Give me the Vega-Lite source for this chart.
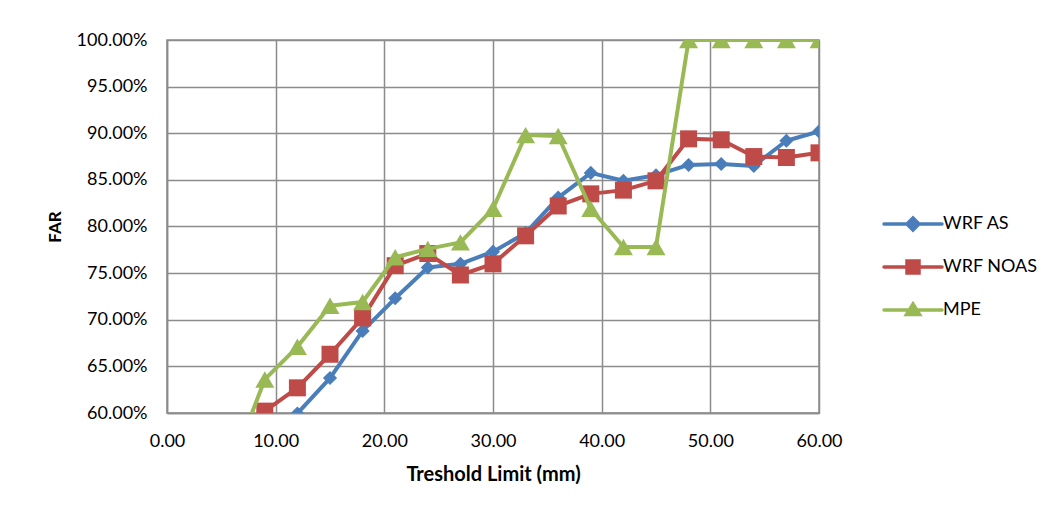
{
  "$schema": "https://vega.github.io/schema/vega-lite/v6.json",
  "autosize": "none",
  "width": 652,
  "height": 373,
  "padding": {"left": 167, "top": 40, "right": 236, "bottom": 102},
  "background": "#ffffff",
  "config": {
    "font": "Lato",
    "view": {"stroke": "#8c8c8c", "strokeWidth": 1.5},
    "axis": {
      "labelFont": "Lato",
      "labelFontSize": 18,
      "labelColor": "#000000",
      "labelOverlap": false,
      "labelFlush": false,
      "titleFont": "Lato",
      "titleFontWeight": "bold",
      "titleColor": "#000000",
      "gridColor": "#8c8c8c",
      "gridWidth": 1.5,
      "gridOpacity": 1,
      "domainColor": "#8c8c8c",
      "domainWidth": 1.5,
      "ticks": false
    }
  },
  "data": {
    "values": [
      {"series": "WRF AS", "x": 9, "y": 0.590},
      {"series": "WRF AS", "x": 12, "y": 0.5995},
      {"series": "WRF AS", "x": 15, "y": 0.6375},
      {"series": "WRF AS", "x": 18, "y": 0.688},
      {"series": "WRF AS", "x": 21, "y": 0.723},
      {"series": "WRF AS", "x": 24, "y": 0.756},
      {"series": "WRF AS", "x": 27, "y": 0.760},
      {"series": "WRF AS", "x": 30, "y": 0.773},
      {"series": "WRF AS", "x": 33, "y": 0.793},
      {"series": "WRF AS", "x": 36, "y": 0.831},
      {"series": "WRF AS", "x": 39, "y": 0.8575},
      {"series": "WRF AS", "x": 42, "y": 0.849},
      {"series": "WRF AS", "x": 45, "y": 0.855},
      {"series": "WRF AS", "x": 48, "y": 0.866},
      {"series": "WRF AS", "x": 51, "y": 0.867},
      {"series": "WRF AS", "x": 54, "y": 0.865},
      {"series": "WRF AS", "x": 57, "y": 0.892},
      {"series": "WRF AS", "x": 60, "y": 0.902},
      {"series": "WRF NOAS", "x": 9, "y": 0.602},
      {"series": "WRF NOAS", "x": 12, "y": 0.627},
      {"series": "WRF NOAS", "x": 15, "y": 0.663},
      {"series": "WRF NOAS", "x": 18, "y": 0.702},
      {"series": "WRF NOAS", "x": 21, "y": 0.758},
      {"series": "WRF NOAS", "x": 24, "y": 0.771},
      {"series": "WRF NOAS", "x": 27, "y": 0.748},
      {"series": "WRF NOAS", "x": 30, "y": 0.760},
      {"series": "WRF NOAS", "x": 33, "y": 0.790},
      {"series": "WRF NOAS", "x": 36, "y": 0.822},
      {"series": "WRF NOAS", "x": 39, "y": 0.835},
      {"series": "WRF NOAS", "x": 42, "y": 0.839},
      {"series": "WRF NOAS", "x": 45, "y": 0.849},
      {"series": "WRF NOAS", "x": 48, "y": 0.894},
      {"series": "WRF NOAS", "x": 51, "y": 0.893},
      {"series": "WRF NOAS", "x": 54, "y": 0.875},
      {"series": "WRF NOAS", "x": 57, "y": 0.874},
      {"series": "WRF NOAS", "x": 60, "y": 0.879},
      {"series": "MPE", "x": 6, "y": 0.545},
      {"series": "MPE", "x": 9, "y": 0.636},
      {"series": "MPE", "x": 12, "y": 0.671},
      {"series": "MPE", "x": 15, "y": 0.715},
      {"series": "MPE", "x": 18, "y": 0.719},
      {"series": "MPE", "x": 21, "y": 0.767},
      {"series": "MPE", "x": 24, "y": 0.776},
      {"series": "MPE", "x": 27, "y": 0.783},
      {"series": "MPE", "x": 30, "y": 0.819},
      {"series": "MPE", "x": 33, "y": 0.898},
      {"series": "MPE", "x": 36, "y": 0.897},
      {"series": "MPE", "x": 39, "y": 0.819},
      {"series": "MPE", "x": 42, "y": 0.778},
      {"series": "MPE", "x": 45, "y": 0.778},
      {"series": "MPE", "x": 48, "y": 1.0},
      {"series": "MPE", "x": 51, "y": 1.0},
      {"series": "MPE", "x": 54, "y": 1.0},
      {"series": "MPE", "x": 57, "y": 1.0},
      {"series": "MPE", "x": 60, "y": 1.0}
    ]
  },
  "encoding": {
    "x": {
      "field": "x",
      "type": "quantitative",
      "scale": {"domain": [0, 60], "nice": false, "zero": false},
      "axis": {
        "title": "Treshold Limit (mm)",
        "titleFontSize": 20,
        "format": ".2f",
        "values": [0, 10, 20, 30, 40, 50, 60],
        "labelPadding": 19,
        "titlePadding": 14
      }
    },
    "y": {
      "field": "y",
      "type": "quantitative",
      "scale": {"domain": [0.6, 1.0], "nice": false, "zero": false},
      "axis": {
        "title": "FAR",
        "titleFontSize": 17,
        "format": ".2%",
        "values": [0.6, 0.65, 0.7, 0.75, 0.8, 0.85, 0.9, 0.95, 1.0],
        "labelPadding": 20,
        "titlePadding": 12
      }
    },
    "color": {
      "field": "series",
      "type": "nominal",
      "scale": {
        "domain": ["WRF AS", "WRF NOAS", "MPE"],
        "range": ["#4a7ebb", "#be4b48", "#98b954"]
      },
      "legend": {
        "title": null,
        "orient": "none",
        "legendX": 734,
        "legendY": 172,
        "padding": 0,
        "symbolSize": 400,
        "symbolStrokeWidth": 3.5,
        "labelFont": "Lato",
        "labelFontSize": 18,
        "labelColor": "#000000",
        "labelOffset": 18,
        "rowPadding": 17,
        "encode": {
          "symbols": {
            "update": {
              "shape": {"signal": "datum.value === 'WRF AS' ? 'M-2.9,0L2.9,0M0,-0.6L0.6,0L0,0.6L-0.6,0Z' : datum.value === 'WRF NOAS' ? 'M-2.9,0L2.9,0M-0.6,-0.6L0.6,-0.6L0.6,0.6L-0.6,0.6Z' : 'M-2.9,0L2.9,0M0,-0.6L0.65,0.45L-0.65,0.45Z'"},
              "fill": {"signal": "datum.value === 'WRF AS' ? '#4a7ebb' : datum.value === 'WRF NOAS' ? '#be4b48' : '#98b954'"},
              "stroke": {"signal": "datum.value === 'WRF AS' ? '#4a7ebb' : datum.value === 'WRF NOAS' ? '#be4b48' : '#98b954'"},
              "strokeWidth": {"value": 3.5},
              "strokeCap": {"value": "round"},
              "opacity": {"value": 1}
            }
          }
        }
      }
    }
  },
  "layer": [
    {
      "transform": [{"filter": "datum.series === 'WRF AS'"}],
      "mark": {"type": "line", "strokeWidth": 4, "clip": true, "strokeJoin": "round",
        "point": {"shape": "diamond", "size": 200, "filled": true, "opacity": 1}}
    },
    {
      "transform": [{"filter": "datum.series === 'WRF NOAS'"}],
      "mark": {"type": "line", "strokeWidth": 4, "clip": true, "strokeJoin": "round",
        "point": {"shape": "square", "size": 289, "filled": true, "opacity": 1}}
    },
    {
      "transform": [{"filter": "datum.series === 'MPE'"}],
      "mark": {"type": "line", "strokeWidth": 4, "clip": true, "strokeJoin": "round",
        "point": {"shape": "triangle-up", "size": 361, "filled": true, "opacity": 1}}
    }
  ]
}
